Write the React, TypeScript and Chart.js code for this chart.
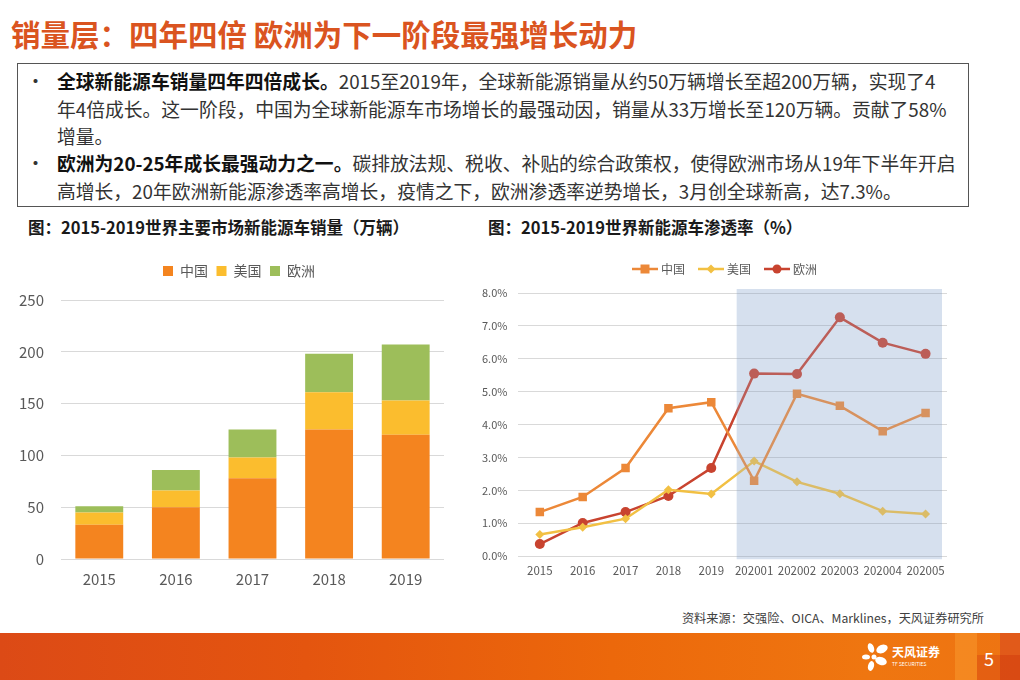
import React, { useEffect, useRef } from "react";
import { Chart, registerables } from "chart.js";

Chart.register(...registerables);

// ---------- Data: left chart (sales, 万辆) ----------
const salesYears = ["2015", "2016", "2017", "2018", "2019"];
const salesChina = [33, 50, 78, 125, 120];
const salesUS = [12, 16, 20, 36, 33];
const salesEurope = [6, 20, 27, 37, 54];
const salesSeries = ["中国", "美国", "欧洲"];
const salesMax = 250;
const salesStep = 50;

// ---------- Data: right chart (penetration, %) ----------
const rateLabels = ["2015", "2016", "2017", "2018", "2019", "202001", "202002", "202003", "202004", "202005"];
const rateChina = [1.34, 1.8, 2.68, 4.5, 4.68, 2.29, 4.94, 4.57, 3.8, 4.35];
const rateUS = [0.66, 0.88, 1.14, 2.02, 1.89, 2.89, 2.26, 1.9, 1.37, 1.28];
const rateEurope = [0.37, 1.01, 1.34, 1.83, 2.68, 5.55, 5.54, 7.26, 6.49, 6.15];
const rateSeries = ["中国", "美国", "欧洲"];
const rateMax = 8;
const rateStep = 1;

const FONT = "'Noto Sans CJK SC', 'Noto Sans', sans-serif";
const TICK_COLOR = "#595959";

const barColors = ["#F4841F", "#FBBD2E", "#9DBE5A"];
const lineColors = ["#EC8838", "#F2C043", "#C8432F"];
const lineStyles = ["rect", "rectRot", "circle"];
const lineRadii = [6, 4.5, 5];

function legendIcon(color: string, style: string): HTMLCanvasElement {
  const w = 26;
  const h = 12;
  const c = document.createElement("canvas");
  c.width = w;
  c.height = h;
  const ctx = c.getContext("2d")!;
  const cx = w / 2;
  const cy = h / 2;
  ctx.strokeStyle = color;
  ctx.lineWidth = 2.5;
  ctx.beginPath();
  ctx.moveTo(0, cy);
  ctx.lineTo(w, cy);
  ctx.stroke();
  ctx.fillStyle = color;
  ctx.beginPath();
  if (style === "rect") {
    ctx.rect(cx - 4.5, cy - 4.5, 9, 9);
  } else if (style === "rectRot") {
    ctx.moveTo(cx - 4.5, cy);
    ctx.lineTo(cx, cy - 4.5);
    ctx.lineTo(cx + 4.5, cy);
    ctx.lineTo(cx, cy + 4.5);
    ctx.closePath();
  } else {
    ctx.arc(cx, cy, 4.5, 0, Math.PI * 2);
  }
  ctx.fill();
  return c;
}

function legendAdjust(extra: number, dx: number, dy: number) {
  return {
    id: "legendAdjust",
    beforeInit(chart: any) {
      const legend = chart.legend;
      if (!legend) return;
      const orig = legend.fit;
      legend.fit = function () {
        orig.call(legend);
        this.height += extra;
      };
    },
    afterLayout(chart: any) {
      const l = chart.legend;
      if (!l) return;
      l.left += dx;
      l.right += dx;
      l.top += dy;
      l.bottom += dy;
    },
  };
}

function bandRect(chart: any) {
  const { chartArea, scales } = chart;
  const x = scales.x;
  const first = rateLabels.findIndex((l) => l.length > 4);
  if (first < 1) return null;
  const left = (x.getPixelForValue(first - 1) + x.getPixelForValue(first)) / 2 + 4;
  const right = chartArea.right - 5;
  const top = chartArea.top - 4;
  const bottom = chartArea.bottom + 3;
  return { left, top, width: right - left, height: bottom - top };
}

const bandPlugin = {
  id: "band2020",
  beforeDraw(chart: any) {
    const r = bandRect(chart);
    if (!r) return;
    const ctx = chart.ctx;
    ctx.save();
    ctx.fillStyle = "#EBF0F7";
    ctx.fillRect(r.left, r.top, r.width, r.height);
    ctx.restore();
  },
  afterDatasetsDraw(chart: any) {
    const r = bandRect(chart);
    if (!r) return;
    const ctx = chart.ctx;
    ctx.save();
    ctx.fillStyle = "rgba(150,175,210,0.25)";
    ctx.fillRect(r.left, r.top, r.width, r.height);
    ctx.restore();
  },
};

export default function App() {
  const leftRef = useRef<HTMLCanvasElement>(null);
  const rightRef = useRef<HTMLCanvasElement>(null);

  useEffect(() => {
    document.body.style.margin = "0";
    const c1 = new Chart(leftRef.current!, {
      type: "bar",
      data: {
        labels: salesYears,
        datasets: [salesChina, salesUS, salesEurope].map((d, i) => ({
          label: salesSeries[i],
          data: d,
          backgroundColor: barColors[i],
          borderWidth: 0,
          barPercentage: 0.625,
          categoryPercentage: 1,
        })),
      },
      options: {
        responsive: false,
        animation: false,
        devicePixelRatio: 1,
        layout: { padding: { left: 2, right: 26, top: 5.5, bottom: 6 } },
        plugins: {
          legend: {
            position: "top",
            labels: {
              boxWidth: 10,
              boxHeight: 10,
              padding: 8.5,
              color: TICK_COLOR,
              font: { family: FONT, size: 14 },
            },
          },
          tooltip: { enabled: false },
        },
        scales: {
          x: {
            stacked: true,
            grid: { display: false, drawTicks: false },
            border: { display: false },
            ticks: { color: TICK_COLOR, padding: 11, font: { family: FONT, size: 15 } },
          },
          y: {
            stacked: true,
            min: 0,
            max: salesMax,
            grid: { color: "#D9D9D9", drawTicks: false },
            border: { display: false },
            ticks: { stepSize: salesStep, color: TICK_COLOR, padding: 17, font: { family: FONT, size: 15 } },
          },
        },
      },
      plugins: [legendAdjust(12, 16, 0)],
    });

    const c2 = new Chart(rightRef.current!, {
      type: "line",
      data: {
        labels: rateLabels,
        datasets: [rateChina, rateUS, rateEurope].map((d, i) => ({
          label: rateSeries[i],
          data: d,
          borderColor: lineColors[i],
          backgroundColor: lineColors[i],
          borderWidth: 2.5,
          pointStyle: lineStyles[i] as any,
          pointRadius: lineRadii[i],
          pointBorderWidth: 0,
          tension: 0,
        })),
      },
      options: {
        responsive: false,
        animation: false,
        devicePixelRatio: 1,
        layout: { padding: { left: 0, right: 23, top: 0, bottom: 4 } },
        plugins: {
          legend: {
            position: "top",
            labels: {
              usePointStyle: true,
              pointStyleWidth: 20,
              padding: 16,
              color: TICK_COLOR,
              font: { family: FONT, size: 12 },
              generateLabels: (chart: any) =>
                chart.data.datasets.map((ds: any, i: number) => ({
                  text: ds.label,
                  fillStyle: lineColors[i],
                  strokeStyle: lineColors[i],
                  lineWidth: 0,
                  hidden: false,
                  datasetIndex: i,
                  fontColor: TICK_COLOR,
                  pointStyle: legendIcon(lineColors[i], lineStyles[i]),
                })),
            },
          },
          tooltip: { enabled: false },
        },
        scales: {
          x: {
            offset: true,
            grid: { display: false, drawTicks: false },
            border: { display: false },
            ticks: { color: TICK_COLOR, padding: 8, maxRotation: 0, autoSkip: false, font: { family: FONT, size: 11.5 } },
          },
          y: {
            min: 0,
            max: rateMax,
            grid: { color: "rgba(0,0,0,0.15)", drawTicks: false },
            border: { display: false },
            ticks: {
              stepSize: rateStep,
              color: TICK_COLOR,
              padding: 11,
              font: { family: FONT, size: 11 },
              callback: (v: any) => Number(v).toFixed(1) + "%",
            },
          },
        },
      },
      plugins: [bandPlugin, legendAdjust(5, 17, -3)],
    });

    return () => {
      c1.destroy();
      c2.destroy();
    };
  }, []);

  const lineStyle = (top: number): React.CSSProperties => ({
    position: "absolute",
    left: 57,
    top,
    height: 27,
    lineHeight: "27px",
    whiteSpace: "nowrap",
    fontSize: 18.8,
    color: "#333",
  });
  const bullet = (top: number): React.CSSProperties => ({
    position: "absolute",
    left: 26,
    top,
    height: 27,
    lineHeight: "27px",
    fontSize: 19,
    color: "#333",
  });
  const bold: React.CSSProperties = { fontWeight: 700, color: "#111" };
  const chartTitle = (left: number): React.CSSProperties => ({
    position: "absolute",
    left,
    top: 217,
    height: 20,
    lineHeight: "20px",
    fontSize: 16.5,
    fontWeight: 700,
    color: "#1a1a1a",
    whiteSpace: "nowrap",
  });

  return (
    <div
      style={{
        position: "absolute",
        left: 0,
        top: 0,
        width: 1020,
        height: 680,
        overflow: "hidden",
        background: "#fff",
        fontFamily: FONT,
      }}
    >
      <div
        style={{
          position: "absolute",
          left: 11,
          top: 14,
          height: 38,
          lineHeight: "38px",
          fontSize: 29.5,
          fontWeight: 700,
          color: "#DA5420",
          whiteSpace: "nowrap",
        }}
      >
        销量层：四年四倍 欧洲为下一阶段最强增长动力
      </div>

      <div
        style={{
          position: "absolute",
          left: 17,
          top: 63,
          width: 952,
          height: 144,
          boxSizing: "border-box",
          border: "1.5px solid #555",
        }}
      />
      <div style={bullet(67)}>•</div>
      <div style={lineStyle(67)}>
        <span style={bold}>全球新能源车销量四年四倍成长。</span>2015至2019年，全球新能源销量从约50万辆增长至超200万辆，实现了4
      </div>
      <div style={lineStyle(94.5)}>年4倍成长。这一阶段，中国为全球新能源车市场增长的最强动因，销量从33万增长至120万辆。贡献了58%</div>
      <div style={lineStyle(121.5)}>增量。</div>
      <div style={bullet(149)}>•</div>
      <div style={lineStyle(149)}>
        <span style={bold}>欧洲为20-25年成长最强动力之一。</span>碳排放法规、税收、补贴的综合政策权，使得欧洲市场从19年下半年开启
      </div>
      <div style={lineStyle(176.5)}>高增长，20年欧洲新能源渗透率高增长，疫情之下，欧洲渗透率逆势增长，3月创全球新高，达7.3%。</div>

      <div style={chartTitle(28)}>图：2015-2019世界主要市场新能源车销量（万辆）</div>
      <div style={chartTitle(488)}>图：2015-2019世界新能源车渗透率（%）</div>

      <div style={{ position: "absolute", left: 0, top: 250, width: 470, height: 355 }}>
        <canvas ref={leftRef} width={470} height={355} style={{ display: "block" }} />
      </div>
      <div style={{ position: "absolute", left: 471, top: 250, width: 499, height: 340 }}>
        <canvas ref={rightRef} width={499} height={340} style={{ display: "block" }} />
      </div>

      <div
        style={{
          position: "absolute",
          right: 36,
          top: 610,
          height: 16,
          lineHeight: "16px",
          fontSize: 12.2,
          color: "#404040",
          whiteSpace: "nowrap",
        }}
      >
        资料来源：交强险、OICA、Marklines，天风证券研究所
      </div>

      <div
        style={{
          position: "absolute",
          left: 0,
          top: 633,
          width: 1020,
          height: 47,
          background: "linear-gradient(to right, #DC4A16 0%, #E4550F 30%, #EC680B 60%, #EF7610 85%, #EE7412 100%)",
        }}
      />
      <div style={{ position: "absolute", left: 955, top: 633, width: 22, height: 47, background: "rgba(250,160,50,0.45)" }} />
      <div style={{ position: "absolute", left: 977, top: 655, width: 23, height: 25, background: "rgba(215,70,20,0.45)" }} />
      <div style={{ position: "absolute", left: 1000, top: 633, width: 20, height: 47, background: "rgba(200,40,20,0.55)" }} />
      <div style={{ position: "absolute", left: 1000, top: 633, width: 20, height: 22, background: "rgba(240,120,40,0.35)" }} />

      <svg style={{ position: "absolute", left: 862, top: 642 }} width={28} height={30} viewBox="0 0 28 30">
        <ellipse cx="9" cy="6" rx="3" ry="5" fill="#fff" transform="rotate(-20 9 6)" />
        <ellipse cx="20" cy="7" rx="6" ry="4" fill="#fff" transform="rotate(-25 20 7)" />
        <ellipse cx="4" cy="15" rx="4" ry="2.5" fill="#fff" />
        <ellipse cx="19" cy="19" rx="6" ry="4" fill="#fff" transform="rotate(20 19 19)" />
        <ellipse cx="9" cy="24" rx="3" ry="5" fill="#fff" transform="rotate(15 9 24)" />
        <circle cx="12" cy="15" r="2.5" fill="#fff" />
      </svg>
      <div
        style={{
          position: "absolute",
          left: 892,
          top: 645,
          fontSize: 12,
          lineHeight: "14px",
          fontWeight: 700,
          color: "#fff",
          whiteSpace: "nowrap",
        }}
      >
        天风证券
      </div>
      <div
        style={{
          position: "absolute",
          left: 892,
          top: 661,
          fontSize: 5,
          lineHeight: "6px",
          color: "#fff",
          whiteSpace: "nowrap",
        }}
      >
        TF SECURITIES
      </div>
      <div
        style={{
          position: "absolute",
          left: 984,
          top: 647,
          fontSize: 18,
          lineHeight: "22px",
          color: "#fff",
        }}
      >
        5
      </div>
    </div>
  );
}
